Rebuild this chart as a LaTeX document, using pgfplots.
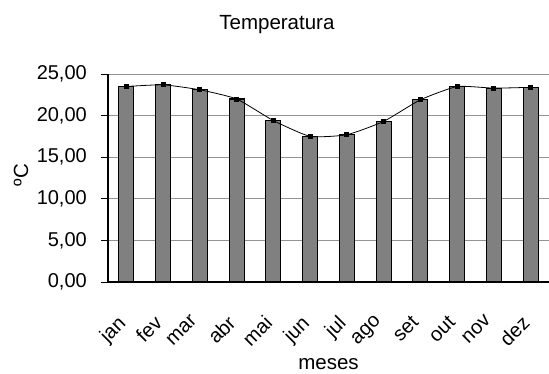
\documentclass[border=0pt]{standalone}
\usepackage{fontspec}
\setmainfont{Liberation Sans}
\usepackage{pgfplots}
\pgfplotsset{compat=1.18}
\begin{document}
\fontsize{20bp}{24bp}\selectfont
\begin{tikzpicture}[x=1bp,y=1bp]
\useasboundingbox (0,0) rectangle (549,373);
\begin{axis}[
  at={(108bp,91bp)}, anchor=south west,
  scale only axis, width=441bp, height=208bp,
  xmin=-0.5, xmax=11.5, ymin=0, ymax=25,
  axis x line*=bottom, axis y line*=left,
  axis line style={black, line width=1.2bp},
  ytick={0,5,10,15,20,25},
  ymajorgrids, grid style={gray!85, line width=0.8bp},
  major tick length=7bp, tick align=outside,
  tick style={black, line width=1bp},
  yticklabel style={/pgf/number format/fixed, /pgf/number format/fixed zerofill, /pgf/number format/precision=2, /pgf/number format/use comma, /pgf/number format/assume math mode=true},
  yticklabel style={font=\fontsize{20bp}{24bp}\selectfont, inner sep=0pt, xshift=-14bp},
  xtick={0,...,11},
  xticklabels={jan,fev,mar,abr,mai,jun,jul,ago,set,out,nov,dez},
  xticklabel style={font=\fontsize{20bp}{24bp}\selectfont, inner sep=0pt, shift={(-10bp,-25bp)}, rotate=45, anchor=north east},
  x tick style={draw=none},
  extra x ticks={-0.5,0.5,...,11.5},
  extra x tick labels={},
  extra x tick style={grid=none, tick style={draw=black, line width=1bp}, major tick length=6bp},
  title={Temperatura},
  title style={at={(axis description cs:0.383,1.1875)}, anchor=base, inner sep=0pt, font=\fontsize{20.5bp}{24bp}\selectfont},
  xlabel={meses},
  xlabel style={at={(axis description cs:0.5,-0.395)}, anchor=center, inner sep=0pt, font=\fontsize{20.5bp}{24bp}\selectfont},
  ylabel={ºC},
  ylabel style={at={(axis description cs:-0.197,0.514)}, anchor=center, font=\fontsize{20.5bp}{24bp}\selectfont},
  clip=false,
]
\addplot[ybar, bar width=15bp, fill=gray, draw=black, line width=1.2bp]
  coordinates {(0,23.5) (1,23.7) (2,23.1) (3,22.0) (4,19.4) (5,17.5) (6,17.7) (7,19.3) (8,21.9) (9,23.5) (10,23.3) (11,23.4)};
\addplot[black, line width=0.8bp, smooth, tension=0.3, mark=square*, mark size=2bp]
  coordinates {(0,23.5) (1,23.7) (2,23.1) (3,22.0) (4,19.4) (5,17.5) (6,17.7) (7,19.3) (8,21.9) (9,23.5) (10,23.3) (11,23.4)};
\end{axis}
\end{tikzpicture}
\end{document}
